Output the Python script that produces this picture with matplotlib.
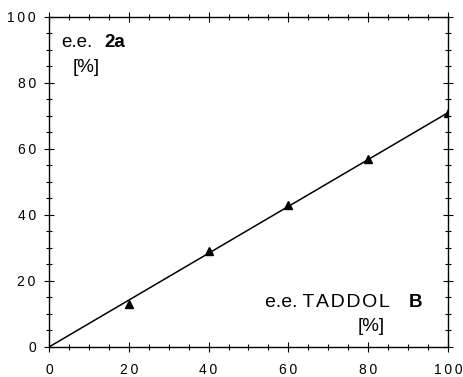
import matplotlib.pyplot as plt
import numpy as np

plt.rcParams['font.family'] = ['Liberation Sans', 'DejaVu Sans']

# e.e. of TADDOL B vs e.e. of product 2a
ee_taddol = [20, 40, 60, 80, 100]
ee_2a = [13, 29, 43, 57, 71]
fit_x = [0, 100]
fit_y = [0, 71]
tick_vals = [0, 20, 40, 60, 80, 100]
tick_labels = ['\u2009'.join(str(v)) for v in tick_vals]

fig = plt.figure(figsize=(4.64, 3.77), dpi=100)
ax = fig.add_axes([0.1056, 0.0796, 0.8599, 0.8754])

ax.plot(fit_x, fit_y, color='black', lw=1.1)
ax.plot(ee_taddol, ee_2a, '^', color='black', ms=6)

ax.set_xlim(0, 100)
ax.set_ylim(0, 100)
ax.set_xticks(tick_vals, tick_labels)
ax.set_yticks(tick_vals, tick_labels)
ax.set_xticks(np.arange(0, 101, 5), minor=True)
ax.set_yticks(np.arange(0, 101, 5), minor=True)
ax.tick_params(which='both', direction='inout', top=True, right=True,
               labelsize=10, width=0.8, color='black')
ax.tick_params(which='major', length=7)
ax.tick_params(which='minor', length=4)
ax.tick_params(axis='x', which='major', pad=8)
ax.tick_params(axis='y', which='major', pad=6)
for s in ax.spines.values():
    s.set_linewidth(1.0)

hs = '\u200a'
ax.text(3.0, 92.4, 'e.e.', fontsize=13.5, va='center', ha='left')
ax.text(14.0, 92.4, '2a', fontsize=13.5, fontweight='bold', va='center', ha='left')
ax.text(6.0, 84.8, '[%]', fontsize=13.5, va='center', ha='left')

ax.text(54.1, 13.5, 'e.e. ' + hs.join('TADDOL'), fontsize=14, va='center', ha='left')
ax.text(90.2, 13.5, 'B', fontsize=13.5, fontweight='bold', va='center', ha='left')
ax.text(77.4, 6.1, '[%]', fontsize=13.5, va='center', ha='left')

fig.savefig('out.png', dpi=100)
